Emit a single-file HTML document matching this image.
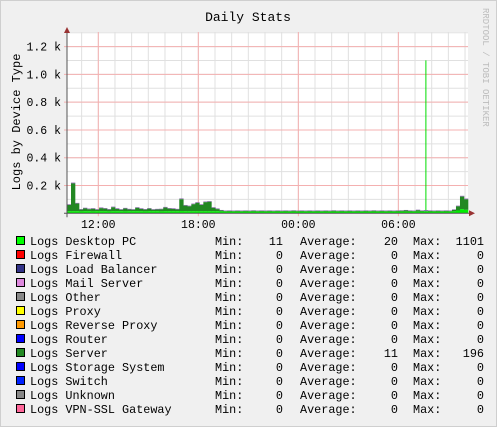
<!DOCTYPE html>
<html><head><meta charset="utf-8">
<style>
html,body{margin:0;padding:0;background:#f0f0f0;}
svg{display:block;font-family:"Liberation Mono","DejaVu Sans Mono",monospace;}
</style></head>
<body>
<svg id="chart" width="497" height="427" viewBox="0 0 497 427">
<rect x="0.5" y="0.5" width="496" height="426" fill="#f0f0f0" stroke="#cfcfcf"/>
<rect x="67" y="32" width="401" height="181" fill="#ffffff"/>
<g id="grid"></g>
<g id="marks"></g>
<g id="axes"></g>
<text x="248" y="21" font-size="13" text-anchor="middle" fill="#000">Daily Stats</text>
<text transform="translate(20,122) rotate(-90)" font-size="12" text-anchor="middle" fill="#000">Logs by Device Type</text>
<text transform="translate(483,8) rotate(90)" font-size="9" fill="#bbbbbb">RRDTOOL / TOBI OETIKER</text>
<g id="legend"></g>
</svg>
<script>
const yTicks=[0.2,0.4,0.6,0.8,1.0,1.2];
const yTickLabels=["0.2 k","0.4 k","0.6 k","0.8 k","1.0 k","1.2 k"];
const xTickHours=[12,18,24,30];
const xTickLabels=["12:00","18:00","00:00","06:00"];
const desktopPC=[15,15,15,14,15,15,14,15,15,15,14,15,15,15,14,15,15,15,15,14,15,15,15,14,15,15,15,15,16,15,15,15,15,15,15,15,15,15,14,12,12,12,12,12,12,12,12,12,12,12,12,12,12,12,12,12,12,12,12,12,12,12,12,12,12,12,12,12,12,12,12,12,12,12,12,12,12,12,12,12,12,12,12,12,12,12,12,12,12,1101,12,12,12,12,12,12,14,20,30,25];
const server=[45,200,55,12,20,14,18,10,22,18,12,28,16,10,20,12,10,24,16,12,18,10,12,14,26,18,16,12,85,40,35,50,60,45,65,68,24,15,6,4,5,4,5,4,5,4,6,4,5,4,5,4,5,4,5,4,6,4,5,4,5,4,5,4,5,4,6,4,5,4,5,4,5,4,5,4,6,4,5,4,5,4,5,6,8,5,4,10,5,4,5,4,5,4,5,4,10,30,90,75];
const mailServer=[5,6,5,5,5,5,5,5,5,5,5,5,5,5,5,5,5,5,5,5,5,5,5,5,5,5,5,5,6,5,5,5,5,5,5,5,5,5,4,4,4,4,4,4,4,4,4,4,4,4,4,4,4,4,4,4,4,4,4,4,4,4,4,4,4,4,4,4,4,4,4,4,4,4,4,4,4,4,4,4,4,4,4,4,4,4,4,4,4,4,4,4,4,4,4,4,4,5,6,6];
const legendNames=["Logs Desktop PC","Logs Firewall","Logs Load Balancer","Logs Mail Server","Logs Other","Logs Proxy","Logs Reverse Proxy","Logs Router","Logs Server","Logs Storage System","Logs Switch","Logs Unknown","Logs VPN-SSL Gateway"];
const legendColors=["#00ff00","#ff0000","#333388","#dd88dd","#888888","#ffff00","#ff9900","#0000ff","#228822","#0000ff","#0022ff","#888888","#ff6699"];
const legendMin=[11,0,0,0,0,0,0,0,0,0,0,0,0];
const legendAvg=[20,0,0,0,0,0,0,0,11,0,0,0,0];
const legendMax=[1101,0,0,0,0,0,0,0,196,0,0,0,0];

const NS="http://www.w3.org/2000/svg";
const X0=67,X1=468,Y0=213.3,PXK=138.9;
const yS=v=>Y0-v/1000*PXK;
const hS=h=>98.3+(h-12)*16.67;
const bw=(X1-X0)/server.length;
const xS=i=>X0+i*bw;
function mk(tag,attrs,parent){const e=document.createElementNS(NS,tag);for(const k in attrs)e.setAttribute(k,attrs[k]);parent.appendChild(e);return e;}
const grid=document.getElementById('grid'),marks=document.getElementById('marks'),axes=document.getElementById('axes'),legend=document.getElementById('legend');
for(let v=0.1;v<=1.31;v+=0.1){const l=mk('line',{x1:X0,x2:X1,y1:yS(v*1000),y2:yS(v*1000),stroke:'#e0e0e0','stroke-width':1},grid);

}
for(let h=11;h<=34;h++){const x=hS(h);if(x<X0||x>X1)continue;const l=mk('line',{x1:x,x2:x,y1:32,y2:Y0,stroke:'#e0e0e0','stroke-width':1},grid);

}
yTicks.forEach((v,i)=>{const y=yS(v*1000);const l=mk('line',{x1:X0-3,x2:X1,y1:y,y2:y,stroke:'#f4b0b0','stroke-width':1},grid);


const t=mk('text',{x:61,y:y+4,'font-size':11.5,'text-anchor':'end',fill:'#000'},axes);t.textContent=yTickLabels[i];

});
xTickHours.forEach((h,i)=>{const x=hS(h);const l=mk('line',{x1:x,x2:x,y1:32,y2:Y0+3,stroke:'#f4b0b0','stroke-width':1},grid);


const t=mk('text',{x:x,y:228,'font-size':11.5,'text-anchor':'middle',fill:'#000'},axes);t.textContent=xTickLabels[i];

});
for(let i=0;i<server.length;i++){
 const x=xS(i);const d=desktopPC[i],s=server[i],m=mailServer[i];
 if(d>200){const r=mk('rect',{x:x+1.5,y:yS(d),width:1,height:Y0-yS(d),fill:'#00dd00'},marks);
 
 
 const r2=mk('rect',{x:x,y:yS(15),width:bw+0.3,height:Y0-yS(15),fill:'#00ee00'},marks);
 
 
 const r3=mk('rect',{x:x,y:yS(15+s+m),width:bw+0.3,height:yS(15)-yS(15+s+m),fill:'#8866aa'},marks);
 
 
 continue;}
 const rm=mk('rect',{x:x,y:yS(d+s+m),width:bw+0.3,height:yS(d+s)-yS(d+s+m),fill:'#8866aa'},marks);
 
 
 const rs=mk('rect',{x:x,y:yS(d+s),width:bw+0.3,height:yS(d)-yS(d+s),fill:'#228822'},marks);
 
 
 const rd=mk('rect',{x:x,y:yS(d),width:bw+0.3,height:Y0-yS(d),fill:'#00ee00'},marks);
 
 
}
const ya=mk('line',{x1:X0,x2:X0,y1:30,y2:Y0+4,stroke:'#555','stroke-width':1},axes);


const xa=mk('line',{x1:X0-3,x2:X1+2,y1:Y0,y2:Y0,stroke:'#555','stroke-width':1},axes);


const ay=mk('polygon',{points:`${X0-3},33 ${X0+3},33 ${X0},27`,fill:'#993333'},axes);


const ax=mk('polygon',{points:`${X1+1},${Y0-3} ${X1+1},${Y0+3} ${X1+7},${Y0}`,fill:'#993333'},axes);


legendNames.forEach((n,i)=>{const y=241+i*14;
 const sw=mk('rect',{x:16.5,y:y-4.5,width:8,height:8,fill:legendColors[i],stroke:'#000','stroke-width':1},legend);
 
 
 const t=mk('text',{x:30,y:y+4,'font-size':11.8,fill:'#000'},legend);t.textContent=n;
 
 
 const cols=[["Min:",215,legendMin[i],283],["Average:",300,legendAvg[i],398],["Max:",413,legendMax[i],484]];
 cols.forEach(c=>{const a=mk('text',{x:c[1],y:y+4,'font-size':11.8,fill:'#000'},legend);a.textContent=c[0];
 
 
 const b=mk('text',{x:c[3],y:y+4,'font-size':11.8,'text-anchor':'end',fill:'#000'},legend);b.textContent=String(c[2]);
 
 });
});
</script>
</body></html>
